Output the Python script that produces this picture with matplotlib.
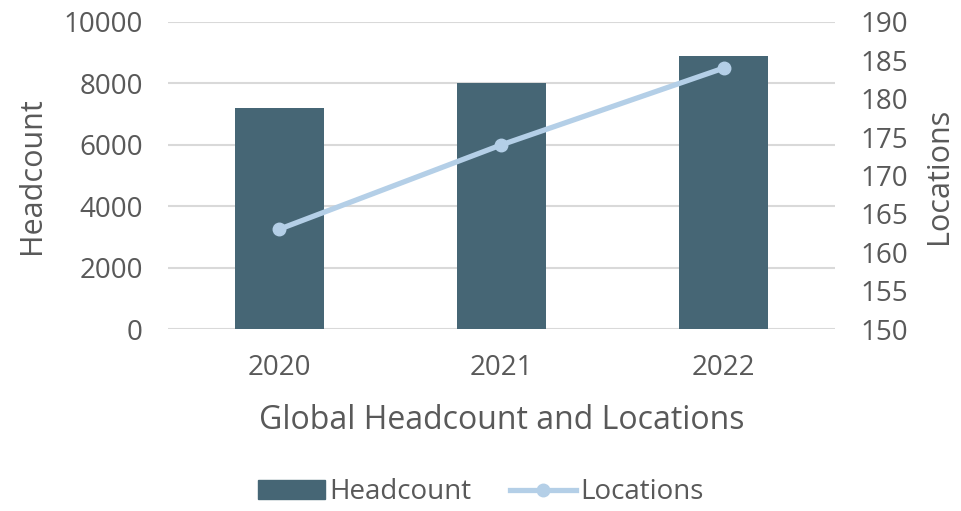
import matplotlib.pyplot as plt
from matplotlib.lines import Line2D
from matplotlib.patches import Patch

plt.rcParams['font.family'] = ['Open Sans', 'DejaVu Sans']

years = ['2020', '2021', '2022']
headcount = [7200, 8000, 8900]
locations = [163, 174, 184]

bar_color = '#466675'
line_color = '#B4CFE7'
text_color = '#595959'

fig = plt.figure(figsize=(9.62, 5.11), dpi=100)
ax = fig.add_axes([0.1746, 0.356, 0.6934, 0.601])
x = range(len(years))
ax.bar(x, headcount, width=0.4, color=bar_color, zorder=2)
ax.set_ylim(0, 10000)
ax.set_yticks(range(0, 10001, 2000))
ax.set_xlim(-0.5, 2.5)
ax.set_xticks(list(x))
ax.set_xticklabels(years)
ax.grid(axis='y', color='#D9D9D9', linewidth=1.5, zorder=0)
for s in ax.spines.values():
    s.set_visible(False)
ax.tick_params(axis='y', length=0, labelsize=20, colors=text_color, pad=18)
ax.tick_params(axis='x', length=0, labelsize=20, colors=text_color, pad=18)
ax.set_ylabel('Headcount', fontsize=22, color=text_color, labelpad=12)
ax.set_xlabel('Global Headcount and Locations', fontsize=23, color=text_color, labelpad=16)

ax2 = ax.twinx()
ax2.plot(list(x), locations, color=line_color, linewidth=3.8, marker='o', markersize=9, zorder=3)
ax2.set_ylim(150, 190)
ax2.set_yticks(range(150, 191, 5))
for s in ax2.spines.values():
    s.set_visible(False)
ax2.tick_params(length=0, labelsize=20, colors=text_color, pad=18)
ax2.set_ylabel('Locations', fontsize=22, color=text_color, labelpad=12)

handles = [Patch(color=bar_color, label='Headcount'),
           Line2D([0], [0], color=line_color, linewidth=3.8, marker='o', markersize=9, label='Locations')]
leg = fig.legend(handles=handles, loc='lower center', bbox_to_anchor=(0.5, -0.04), ncol=2,
                 frameon=False, fontsize=20, handlelength=2.4, handletextpad=0.15, columnspacing=1.4)
for t in leg.get_texts():
    t.set_color(text_color)

fig.savefig('out.png', dpi=100)
